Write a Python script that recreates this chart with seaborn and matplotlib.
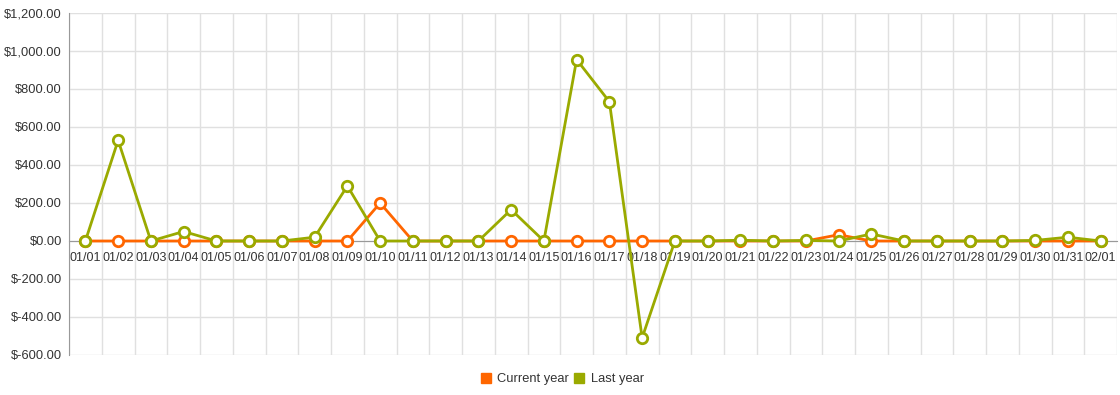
import matplotlib
matplotlib.use("Agg")
import matplotlib.pyplot as plt
from matplotlib.lines import Line2D
from matplotlib.ticker import FuncFormatter, FixedLocator
import pandas as pd
import seaborn as sns

days = ["01/01", "01/02", "01/03", "01/04", "01/05", "01/06", "01/07", "01/08",
        "01/09", "01/10", "01/11", "01/12", "01/13", "01/14", "01/15", "01/16",
        "01/17", "01/18", "01/19", "01/20", "01/21", "01/22", "01/23", "01/24",
        "01/25", "01/26", "01/27", "01/28", "01/29", "01/30", "01/31", "02/01"]

current_year = [0, 0, 0, 0, 0, 0, 0, 0, 0, 200, 0, 0, 0, 0, 0, 0,
                0, 0, 0, 0, 0, 0, 0, 33, 0, 0, 0, 0, 0, 0, 0, 0]

last_year = [0, 530, 0, 50, 0, 0, 0, 20, 290, 0, 0, 0, 0, 165, 0, 955,
             733, -510, 0, 0, 4, 0, 3, 0, 37, 0, 0, 0, 0, 3, 20, 0]

series_names = ["Current year", "Last year"]
colors = {"Current year": "#ff6600", "Last year": "#9aaa00"}

df = pd.DataFrame({"idx": range(len(days)), "Current year": current_year, "Last year": last_year})

sns.set_style("white")
plt.rcParams["font.family"] = ["Liberation Sans", "DejaVu Sans"]

fig = plt.figure(figsize=(11.2, 3.95), dpi=100)
ax = fig.add_axes([69 / 1120, 1 - 355 / 395, (1117 - 69) / 1120, (355 - 13) / 395])

for name in series_names:
    sns.lineplot(data=df, x="idx", y=name, ax=ax, color=colors[name], linewidth=2,
                 marker="o", markersize=7.5, markerfacecolor="white",
                 markeredgecolor=colors[name], markeredgewidth=2, zorder=3)

ax.set_xlim(-0.5, len(days) - 0.5)
ax.set_ylim(-600, 1200)
ax.set_yticks(range(-600, 1201, 200))
ax.yaxis.set_major_formatter(FuncFormatter(lambda v, p: f"${v:,.2f}"))

ax.set_xticks(range(len(days)))
ax.set_xticklabels(days)
ax.xaxis.set_minor_locator(FixedLocator([i - 0.5 for i in range(len(days) + 1)]))

ax.grid(True, axis="y", which="major", color="#e0e0e0", linewidth=1)
ax.grid(True, axis="x", which="minor", color="#e0e0e0", linewidth=1)
ax.set_axisbelow(True)

ax.spines["bottom"].set_position(("data", 0))
ax.spines["bottom"].set_color("#999999")
ax.spines["left"].set_color("#999999")
ax.spines["top"].set_visible(False)
ax.spines["right"].set_visible(False)
ax.spines["bottom"].set_zorder(2)

ax.tick_params(axis="x", which="major", length=0, labelsize=9, colors="#333333", pad=8)
ax.tick_params(axis="x", which="minor", length=0)
ax.tick_params(axis="y", length=3, color="#999999", labelsize=9.3, labelcolor="#333333", pad=2)
ax.set_xlabel("")
ax.set_ylabel("")

handles = [Line2D([0], [0], marker="s", linestyle="none", markersize=7,
                  markerfacecolor=colors[n], markeredgecolor=colors[n]) for n in series_names]
fig.legend(handles, series_names, loc="center", bbox_to_anchor=(0.502, 1 - 379 / 395),
           ncol=2, frameon=False, fontsize=9.3, handlelength=0.8, handletextpad=0.5,
           columnspacing=0.4, labelcolor="#333333")

fig.savefig("out.png", dpi=100)
